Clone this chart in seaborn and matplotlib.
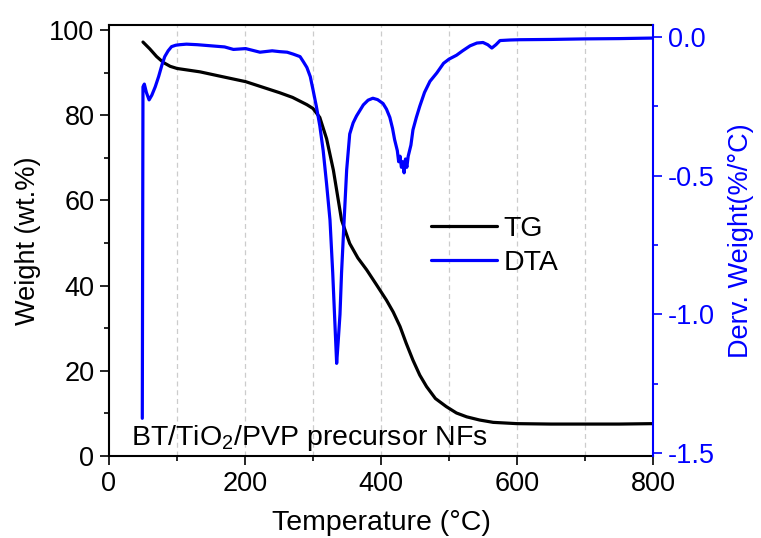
import matplotlib
matplotlib.use("Agg")
import matplotlib.pyplot as plt
from matplotlib.ticker import MultipleLocator
from matplotlib.lines import Line2D
import seaborn as sns
import pandas as pd

# ---- data ----
temp_tg = [50, 60, 70, 80, 90, 100, 134, 160, 201, 251, 270, 291, 300, 310, 320,
           330, 342, 354, 366, 379, 393, 408, 418, 428, 437, 447, 457, 467, 480,
           496, 511, 526, 545, 565, 600, 650, 700, 750, 800]
weight_tg = [97.2, 95.6, 93.8, 92.4, 91.5, 91.0, 90.2, 89.3, 87.9, 85.3, 84.2, 82.5,
             81.6, 79.5, 74.5, 67.1, 55.4, 49.9, 46.5, 43.7, 40.3, 36.6, 33.8, 30.4,
             26.5, 22.5, 19.0, 16.3, 13.5, 11.6, 10.1, 9.2, 8.45, 7.9, 7.6, 7.5,
             7.5, 7.5, 7.6]

temp_dta = [49, 50, 52, 55, 59, 63, 68, 73, 78, 82, 87, 92, 98, 104, 114, 130, 150,
            170, 183, 201, 222, 240, 251, 262, 271, 281, 286, 291, 296, 300, 305,
            310, 315, 320, 325, 329, 332, 334.8, 337, 339.7, 342, 345, 349.5, 354,
            359, 364, 374, 381, 388, 395, 403, 408, 413, 417, 420, 424, 426, 428,
            430, 432, 434, 436, 438, 440, 444, 447, 452, 457, 464, 472, 482, 492,
            500, 511, 520, 531, 541, 550, 557, 563, 569, 575, 590, 604, 650, 700,
            750, 800]
deriv_dta = [-1.375, -0.18, -0.17, -0.20, -0.227, -0.21, -0.18, -0.143, -0.10, -0.071,
             -0.05, -0.035, -0.03, -0.028, -0.026, -0.028, -0.032, -0.036, -0.045,
             -0.042, -0.055, -0.050, -0.053, -0.055, -0.062, -0.071, -0.09, -0.11,
             -0.143, -0.19, -0.251, -0.32, -0.41, -0.53, -0.66, -0.85, -1.02, -1.177,
             -1.10, -1.0, -0.85, -0.70, -0.48, -0.35, -0.31, -0.285, -0.245, -0.228,
             -0.221, -0.226, -0.24, -0.26, -0.29, -0.33, -0.37, -0.41, -0.45, -0.43,
             -0.47, -0.45, -0.49, -0.44, -0.47, -0.43, -0.39, -0.335, -0.29, -0.25,
             -0.2, -0.16, -0.13, -0.095, -0.08, -0.066, -0.05, -0.032, -0.022, -0.02,
             -0.028, -0.04, -0.028, -0.013, -0.011, -0.01, -0.009, -0.007, -0.006,
             -0.004]

x_ticks = [0, 200, 400, 600, 800]
left_ticks = [0, 20, 40, 60, 80, 100]
right_ticks = [0.0, -0.5, -1.0, -1.5]

df_tg = pd.DataFrame({"T": temp_tg, "W": weight_tg})
df_dta = pd.DataFrame({"T": temp_dta, "D": deriv_dta})

sns.set_theme(style="ticks")
plt.rcParams["font.family"] = ["Liberation Sans", "DejaVu Sans"]
plt.rcParams["mathtext.fontset"] = "custom"
plt.rcParams["mathtext.rm"] = "Liberation Sans"
plt.rcParams["mathtext.it"] = "Liberation Sans"
plt.rcParams["text.color"] = "black"
plt.rcParams["axes.labelcolor"] = "black"
plt.rcParams["xtick.color"] = "black"
plt.rcParams["ytick.color"] = "black"

BLUE = "#0000FF"
FS_TICK = 19.5
FS_LAB = 20.5

fig = plt.figure(figsize=(7.61, 5.38), dpi=100)
ax = fig.add_axes([0.1432, 0.1524, 0.8581 - 0.1432, 0.9535 - 0.1524])
ax2 = ax.twinx()

sns.lineplot(data=df_tg, x="T", y="W", ax=ax, color="black", lw=2.3, label="TG", legend=False)
sns.lineplot(data=df_dta, x="T", y="D", ax=ax2, color=BLUE, lw=2.3, label="DTA", legend=False)

ax.set_xlim(0, 800)
ax.set_ylim(0, 101.2)
ax2.set_ylim(-1.511, 0.043)

ax.set_xticks(x_ticks)
ax.set_yticks(left_ticks)
ax2.set_yticks(right_ticks)
ax2.set_yticklabels([f"{v:.1f}" for v in right_ticks])
ax.xaxis.set_minor_locator(MultipleLocator(100))
ax.yaxis.set_minor_locator(MultipleLocator(10))
ax2.yaxis.set_minor_locator(MultipleLocator(0.25))

ax.grid(False)
ax2.grid(False)
for xv in range(100, 800, 100):
    ax.axvline(xv, color="#cccccc", lw=0.9, ls=(0, (4, 3)), zorder=0)

for s in ["top", "bottom", "left"]:
    ax.spines[s].set_linewidth(1.5)
    ax.spines[s].set_color("black")
ax2.spines["right"].set_color(BLUE)
ax2.spines["right"].set_linewidth(1.5)
for s in ["top", "bottom", "left"]:
    ax2.spines[s].set_visible(False)
ax.spines["right"].set_visible(False)

ax.tick_params(axis="both", which="major", direction="out", length=6.5, width=1.2,
               labelsize=FS_TICK, color="black", labelcolor="black", pad=4)
ax.tick_params(axis="both", which="minor", direction="out", length=3.5, width=1.2, color="black")
ax.tick_params(top=False, right=False, which="both")
ax2.tick_params(axis="y", which="major", direction="out", length=6.5, width=1.2,
                labelsize=FS_TICK, color=BLUE, labelcolor=BLUE, pad=4)
ax2.tick_params(axis="y", which="minor", direction="out", length=3.5, width=1.2, color=BLUE)

ax.set_xlabel("Temperature (°C)", fontsize=FS_LAB, color="black", labelpad=10)
ax.set_ylabel("Weight (wt.%)", fontsize=FS_LAB - 1, color="black", labelpad=6)
ax2.set_ylabel("Derv. Weight(%/°C)", fontsize=FS_LAB - 1, color=BLUE, labelpad=10)

ax.text(33, 2.6, "BT/TiO$_2$/PVP precursor NFs", fontsize=FS_LAB, color="black",
        va="baseline", ha="left", zorder=5)

handles = [Line2D([], [], color="black", lw=2.3), Line2D([], [], color=BLUE, lw=2.3)]
leg = ax2.legend(handles, ["TG", "DTA"], frameon=False, fontsize=FS_LAB,
                 loc="center left", bbox_to_anchor=(431 / 761 - 0.026, 1 - 246 / 538),
                 bbox_transform=fig.transFigure, handlelength=2.3, handletextpad=0.25,
                 labelspacing=0.25, borderpad=0.2, labelcolor="black")

fig.savefig("out.png", dpi=100)
